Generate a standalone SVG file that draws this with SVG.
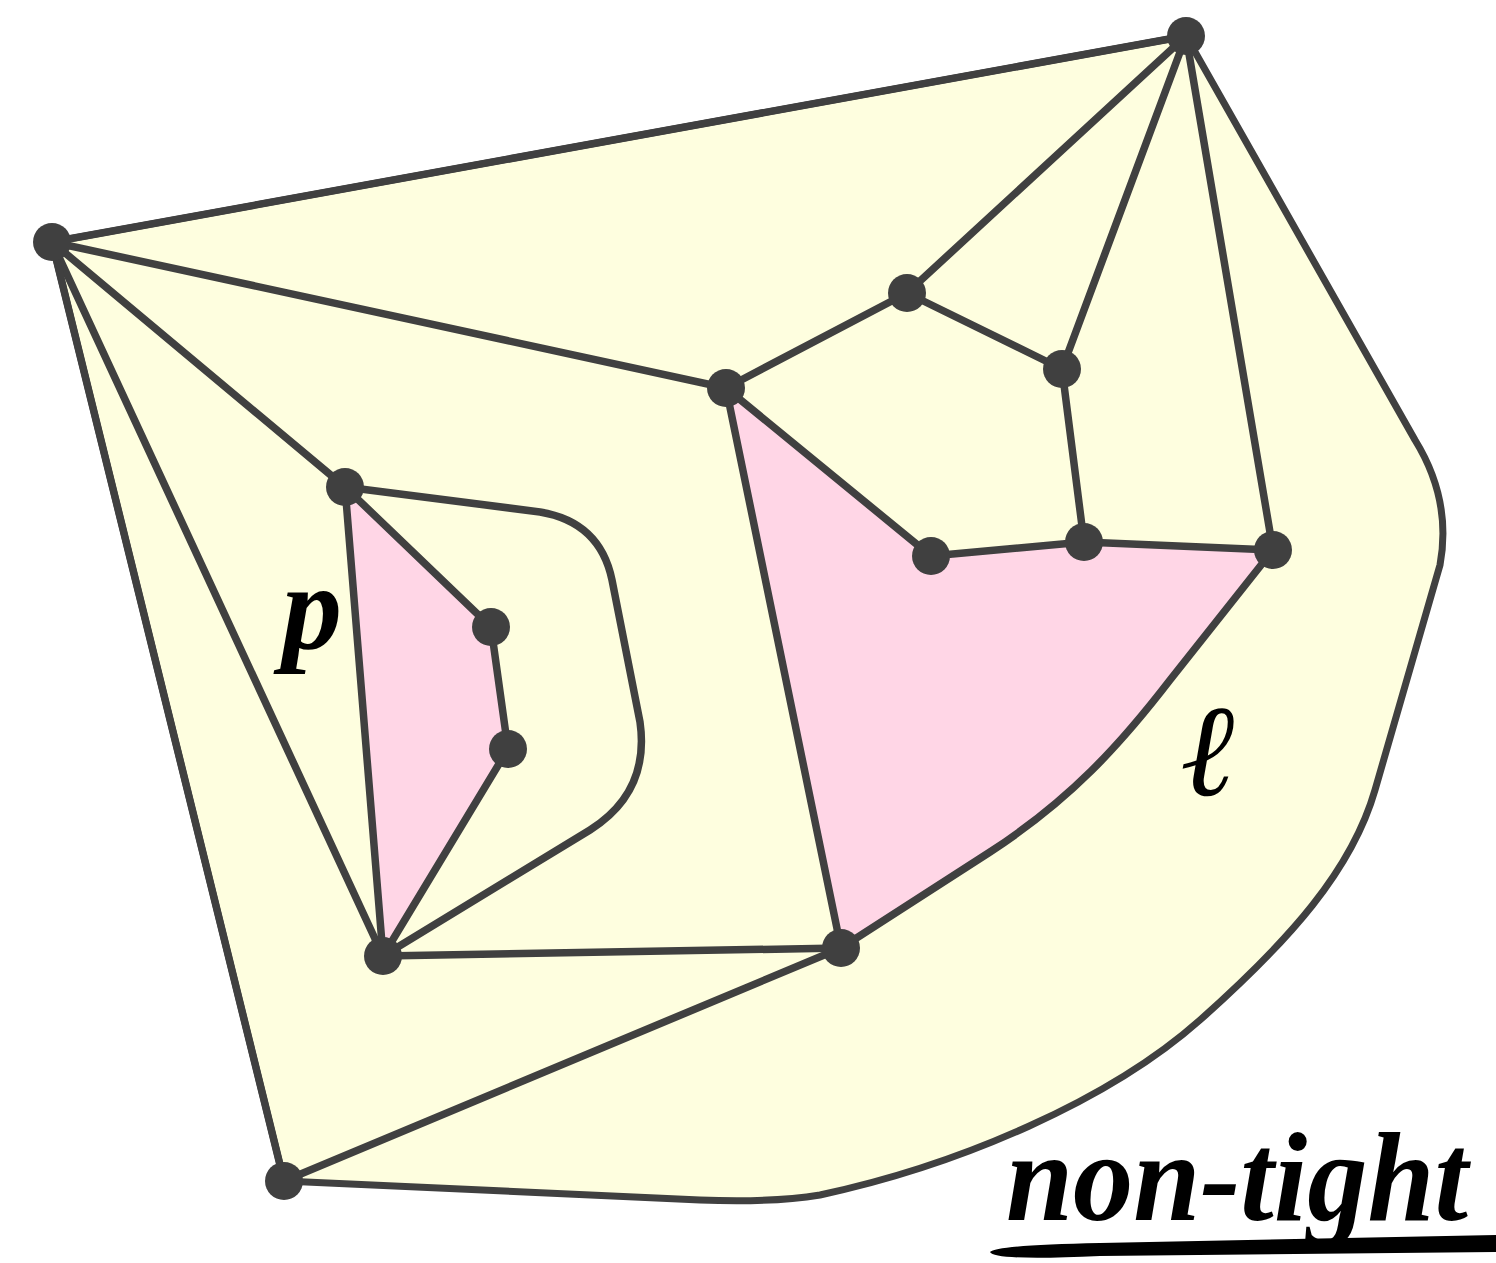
<svg xmlns="http://www.w3.org/2000/svg" width="1496" height="1263" viewBox="0 0 1496 1263">
<style>
.e{fill:none;stroke:#404040;stroke-width:7.5;stroke-linecap:round;stroke-linejoin:round}
.n{fill:#404040}
.lbl{font-family:"Liberation Serif",serif;font-style:italic;fill:#000}
</style>
<rect width="1496" height="1263" fill="#ffffff"/>
<g id="regions">
<path d="M52,242 L1186,36 L1415,440 Q1452,500 1440,565 L1375,790 C1352,870 1290,940 1200,1020 C1110,1100 960,1165 820,1195 Q770,1203 700,1200 L284,1181 Z" fill="#fefedf" stroke="#404040" stroke-width="7" stroke-linejoin="round"/>
<path d="M345,487 L491,627 L508,749 L383,956 Z" fill="#ffd6e6"/>
<path d="M726,388 L931,556 L1084,542 L1273,550 L1170,680 C1120,745 1070,800 990,852 L841,948 Z" fill="#ffd6e6"/>
</g>
<g id="connectors" class="e">
<path d="M52,242 L1186,36"/>
<path d="M52,242 L726,388"/>
<path d="M52,242 L345,487"/>
<path d="M52,242 L383,956"/>
<path d="M52,242 L284,1181"/>
<path d="M1186,36 L907,293"/>
<path d="M1186,36 L1062,369"/>
<path d="M1186,36 L1273,550"/>
<path d="M907,293 L726,388"/>
<path d="M907,293 L1062,369"/>
<path d="M1062,369 L1084,542"/>
<path d="M726,388 L931,556"/>
<path d="M726,388 L841,948"/>
<path d="M345,487 L491,627"/>
<path d="M345,487 L383,956"/>
<path d="M345,487 L540,512 Q600,522 612,580 L640,722 Q650,792 590,830 L383,956"/>
<path d="M491,627 L508,749"/>
<path d="M508,749 L383,956"/>
<path d="M931,556 L1084,542"/>
<path d="M1084,542 L1273,550"/>
<path d="M1273,550 L1170,680 C1120,745 1070,800 990,852 L841,948"/>
<path d="M383,956 L841,948"/>
<path d="M841,948 L284,1181"/>
</g>
<g id="nA"><circle class="n" cx="52" cy="242" r="19"/></g>
<g id="nB"><circle class="n" cx="1186" cy="36" r="19"/></g>
<g id="nC"><circle class="n" cx="907" cy="293" r="19"/></g>
<g id="nD"><circle class="n" cx="1062" cy="369" r="19"/></g>
<g id="nE"><circle class="n" cx="726" cy="388" r="19"/></g>
<g id="nF"><circle class="n" cx="345" cy="487" r="19"/></g>
<g id="nG"><circle class="n" cx="491" cy="627" r="19"/></g>
<g id="nH"><circle class="n" cx="508" cy="749" r="19"/></g>
<g id="nI"><circle class="n" cx="931" cy="556" r="19"/></g>
<g id="nJ"><circle class="n" cx="1084" cy="542" r="19"/></g>
<g id="nK"><circle class="n" cx="1273" cy="550" r="19"/></g>
<g id="nL"><circle class="n" cx="383" cy="956" r="19"/></g>
<g id="nM"><circle class="n" cx="841" cy="948" r="19"/></g>
<g id="nN"><circle class="n" cx="284" cy="1181" r="19"/></g>
<g id="labels">
<text class="lbl" x="282" y="648" font-size="120" font-weight="bold">p</text>
<text class="lbl" x="1180" y="795" font-size="130">ℓ</text>
<text class="lbl" x="1006" y="1220" font-size="128" font-weight="bold" textLength="462" lengthAdjust="spacingAndGlyphs">non-tight</text>
<path d="M990,1252 Q996,1245 1100,1243 L1496,1235 L1496,1252 L1100,1256 Q994,1261 990,1252 Z" fill="#000"/>
</g>
</svg>
